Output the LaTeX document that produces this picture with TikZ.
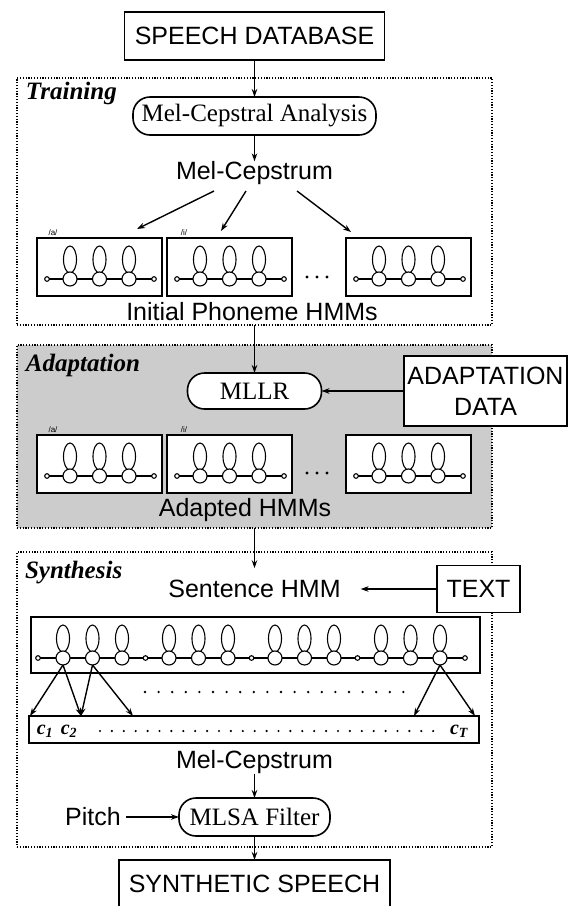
\documentclass[tikz,border=0pt]{standalone}
\usepackage{fontspec}
\setmainfont{Liberation Serif}
\setsansfont{Liberation Sans}
\usetikzlibrary{arrows.meta}
\definecolor{adgray}{RGB}{204,204,204}
\begin{document}
\begin{tikzpicture}[x=1pt,y=-1pt,
  >={Stealth[length=8pt,width=5.5pt]},
  every node/.style={inner sep=0pt,outer sep=0pt},
  sans/.style={font=\sffamily\fontsize{25}{31}\selectfont},
  serif/.style={font=\rmfamily\fontsize{25}{30}\selectfont},
  grouplbl/.style={font=\rmfamily\bfseries\itshape\fontsize{25}{30}\selectfont, anchor=west},
  tinylbl/.style={font=\sffamily\fontsize{8}{8}\selectfont},
  cfont/.style={font=\rmfamily\bfseries\itshape\fontsize{20}{20}\selectfont},
  solidbox/.style={draw, line width=1.6pt, fill=white},
  stadium/.style={draw, line width=1.6pt, fill=white, rounded corners=17pt},
  dotbox/.style={draw, line width=1.4pt, dash pattern=on 1.2pt off 1.6pt},
  hmmbox/.style={draw, line width=1.5pt, fill=white, minimum width=125pt, minimum height=58pt},
  conn/.style={->, line width=1.4pt},
  thinl/.style={line width=1.1pt},
  hmmthree/.pic={
    \foreach \k in {0,1,2} {\draw[thinl] (\k*29.5,-19.5) ellipse [x radius=6.5, y radius=13.5];}
    \foreach \k in {0,1,2} {\draw[thinl, fill=white] (\k*29.5,0) circle [radius=7];}
    \foreach \k in {0,1} {\draw[thinl] (\k*29.5+7,0) -- (\k*29.5+22.5,0);}
  },
  hmmfull/.pic={
    \draw[thinl] (-23,0) circle [radius=2.3];
    \draw[thinl] (-20.7,0) -- (-7,0);
    \pic {hmmthree};
    \draw[thinl] (66,0) -- (81.7,0);
    \draw[thinl] (84,0) circle [radius=2.3];
  }
]
\useasboundingbox (0,0) rectangle (568,906);

% ---------- group frames ----------
\node[dotbox, minimum width=475pt, minimum height=247pt] (train) at (254.5,201.5) {};
\node[dotbox, fill=adgray, minimum width=475pt, minimum height=183pt] (adapt) at (254.5,436.5) {};
\node[dotbox, minimum width=475pt, minimum height=295pt] (synth) at (254.5,699.5) {};

\node[grouplbl] (trainlbl) at (26,93) {Training};
\node[grouplbl] (adaptlbl) at (26,365) {Adaptation};
\node[grouplbl] (synthlbl) at (25,573) {Synthesis};

% ---------- top ----------
\node[solidbox, sans, minimum width=260pt, minimum height=48pt] (sdb) at (254.5,36) {SPEECH DATABASE};

% ---------- training ----------
\node[stadium, serif, minimum width=243pt, minimum height=38pt] (mca) at (254.5,116) {Mel-Cepstral Analysis};
\node[sans] (mc1) at (254.5,173) {Mel-Cepstrum};

\node[hmmbox] (h1) at (99.5,267) {};
\node[hmmbox] (h2) at (229.5,267) {};
\node[hmmbox] (h3) at (408.5,267) {};
\pic at (70,279) {hmmfull};
\pic at (200,279) {hmmfull};
\pic at (379,279) {hmmfull};
\node[tinylbl] (la1) at (53,233) {/a/};
\node[tinylbl] (li1) at (184,233) {/i/};
\foreach \i in {0,1,2} {\fill (307+\i*10,277) circle [radius=1.6];}
\node[sans] (iph) at (252,312) {Initial Phoneme HMMs};

\coordinate (m1s) at (214,191);
\coordinate (m2s) at (246,191);
\coordinate (m3s) at (297,191);
\coordinate (m1t) at (137,229);
\coordinate (m2t) at (221,231);
\coordinate (m3t) at (351,232);

% ---------- adaptation ----------
\node[stadium, serif, minimum width=134pt, minimum height=36pt] (mllr) at (254.5,391) {MLLR};
\node[solidbox, sans, align=center, minimum width=163pt, minimum height=70pt] (adata) at (485.5,391) {ADAPTATION\\DATA};

\node[hmmbox] (a1) at (99.5,464) {};
\node[hmmbox] (a2) at (229.5,464) {};
\node[hmmbox] (a3) at (408.5,464) {};
\pic at (70,476) {hmmfull};
\pic at (200,476) {hmmfull};
\pic at (379,476) {hmmfull};
\node[tinylbl] (la2) at (53,430) {/a/};
\node[tinylbl] (li2) at (184,430) {/i/};
\foreach \i in {0,1,2} {\fill (307+\i*10,473) circle [radius=1.6];}
\node[sans] (ahmm) at (245,510) {Adapted HMMs};

% ---------- synthesis ----------
\node[sans, inner xsep=20pt] (shmm) at (254.5,589) {Sentence HMM};
\node[solidbox, sans, minimum width=83pt, minimum height=47pt] (tb) at (478.5,589) {TEXT};

\node[draw, line width=1.5pt, fill=white, minimum width=449pt, minimum height=56pt] (bigh) at (255.5,645) {};
\draw[thinl] (38,658) circle [radius=2.3];
\draw[thinl] (40.3,658) -- (56,658);
\foreach \g in {63,169,275,381} {
  \pic at (\g,658) {hmmthree};
}
\foreach \g in {63,169,275} {
  \draw[thinl] (\g+66,658) -- (\g+80.2,658);
  \draw[thinl] (\g+82.5,658) circle [radius=2.3];
  \draw[thinl] (\g+84.8,658) -- (\g+99,658);
}
\draw[thinl] (447,658) -- (462.7,658);
\draw[thinl] (465,658) circle [radius=2.3];

\foreach \i in {0,...,19} {\fill (145+\i*13.6,692) circle [radius=1.3];}

\node[draw, line width=1.5pt, fill=white, minimum width=450pt, minimum height=27pt] (cbox) at (254,729.5) {};
\node[cfont] (c1) at (45,731) {c\textsubscript{1}};
\node[cfont] (c2) at (69,731) {c\textsubscript{2}};
\node[cfont] (cT) at (459,731) {c\textsubscript{\textit{T}}};
\foreach \i in {0,...,28} {\fill (100+\i*11.9,731) circle [radius=1.2];}

\coordinate (s1) at (63,665);
\coordinate (s2) at (92.5,665);
\coordinate (s12) at (440,665);
\coordinate (ct1) at (30,716);
\coordinate (ct2) at (81,716);
\coordinate (ct3) at (133,716);
\coordinate (ct4) at (414,716);
\coordinate (ct5) at (475,716);

\node[sans] (mc2) at (254.5,762) {Mel-Cepstrum};
\node[stadium, serif, minimum width=151pt, minimum height=38pt] (mlsa) at (254.5,817) {MLSA Filter};
\node[sans, inner xsep=5pt] (pitch) at (93,817) {Pitch};

% ---------- bottom ----------
\node[solidbox, sans, minimum width=271pt, minimum height=48pt] (ss) at (254.5,884) {SYNTHETIC SPEECH};

% ---------- connectors ----------
\draw[conn] (sdb) -- (mca);
\draw[conn] (mca) -- (mc1);
\draw[conn] (m1s) -- (m1t);
\draw[conn] (m2s) -- (m2t);
\draw[conn] (m3s) -- (m3t);
\draw[conn] (train.south) -- (mllr);
\draw[conn] (adata.west) -- (mllr.east);
\draw[conn, shorten >=12pt] (adapt.south) -- (shmm);
\draw[conn] (tb.west) -- (shmm.east);
\draw[conn] (s1) -- (ct1);
\draw[conn] (s1) -- (ct2);
\draw[conn] (s2) -- (ct2);
\draw[conn] (s2) -- (ct3);
\draw[conn] (s12) -- (ct4);
\draw[conn] (s12) -- (ct5);
\draw[conn] (mc2) -- (mlsa);
\draw[conn] (pitch) -- (mlsa);
\draw[conn] (mlsa) -- (ss);
\end{tikzpicture}
\end{document}
